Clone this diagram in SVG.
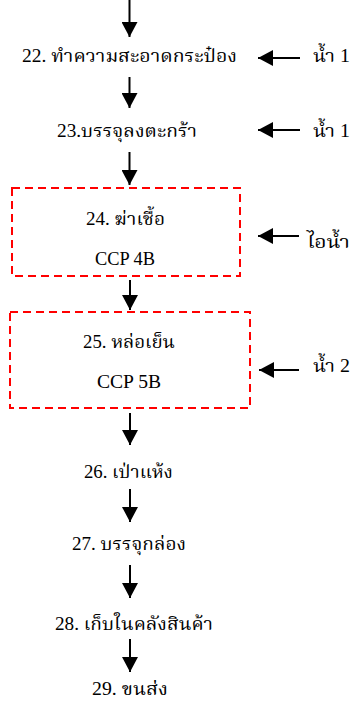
<svg xmlns="http://www.w3.org/2000/svg" width="353" height="706" viewBox="0 0 353 706">
<style>
text{font-family:"Liberation Serif","Noto Serif Thai","Noto Sans Thai","Tlwg Typo",serif;font-size:18px;fill:#000}
.ln{stroke:#000;stroke-width:2;fill:none}
.box{fill:none;stroke:#ff0000;stroke-width:2;stroke-dasharray:8 5}
</style>
<defs>
<marker id="ah" markerUnits="userSpaceOnUse" markerWidth="16" markerHeight="16" viewBox="0 0 16 16" refX="15" refY="8" orient="auto">
<path d="M0,0 L15,8 L0,16 Z" fill="#000"/>
</marker>
</defs>
<rect width="353" height="706" fill="#fff"/>
<g id="connectors">
<line class="ln" x1="129.5" y1="0" x2="129.5" y2="37" marker-end="url(#ah)"/>
<line class="ln" x1="129.5" y1="77" x2="129.5" y2="108" marker-end="url(#ah)"/>
<line class="ln" x1="129.5" y1="152" x2="129.5" y2="185" marker-end="url(#ah)"/>
<line class="ln" x1="130" y1="280" x2="130" y2="310" marker-end="url(#ah)"/>
<line class="ln" x1="130" y1="413" x2="130" y2="445" marker-end="url(#ah)"/>
<line class="ln" x1="130" y1="489" x2="130" y2="522" marker-end="url(#ah)"/>
<line class="ln" x1="130" y1="565" x2="130" y2="598" marker-end="url(#ah)"/>
<line class="ln" x1="130" y1="639" x2="130" y2="672" marker-end="url(#ah)"/>
<line class="ln" x1="300" y1="58" x2="258" y2="58" marker-end="url(#ah)"/>
<line class="ln" x1="300" y1="130" x2="258" y2="130" marker-end="url(#ah)"/>
<line class="ln" x1="299" y1="236" x2="258" y2="236" marker-end="url(#ah)"/>
<line class="ln" x1="299" y1="370" x2="259" y2="370" marker-end="url(#ah)"/>
</g>
<g id="n22"><text x="22" y="62" textLength="215" lengthAdjust="spacingAndGlyphs">22. ทำความสะอาดกระป๋อง</text></g>
<g id="in22"><text x="313" y="62" textLength="37" lengthAdjust="spacingAndGlyphs">น้ำ 1</text></g>
<g id="n23"><text x="57" y="137" textLength="140" lengthAdjust="spacingAndGlyphs">23.บรรจุลงตะกร้า</text></g>
<g id="in23"><text x="313" y="137" textLength="37" lengthAdjust="spacingAndGlyphs">น้ำ 1</text></g>
<g id="n24"><rect class="box" x="12" y="188" width="228" height="88"/><text x="86" y="225" textLength="79" lengthAdjust="spacingAndGlyphs">24. ฆ่าเชื้อ</text><text x="95" y="265" textLength="60" lengthAdjust="spacingAndGlyphs">CCP 4B</text></g>
<g id="in24"><text x="307" y="248" textLength="43" lengthAdjust="spacingAndGlyphs">ไอน้ำ</text></g>
<g id="n25"><rect class="box" x="10" y="312" width="240" height="96"/><text x="83" y="348" textLength="92" lengthAdjust="spacingAndGlyphs">25. หล่อเย็น</text><text x="97" y="388" textLength="64" lengthAdjust="spacingAndGlyphs">CCP 5B</text></g>
<g id="in25"><text x="313" y="372" textLength="37" lengthAdjust="spacingAndGlyphs">น้ำ 2</text></g>
<g id="n26"><text x="84" y="478" textLength="89" lengthAdjust="spacingAndGlyphs">26. เป่าแห้ง</text></g>
<g id="n27"><text x="72" y="550" textLength="114" lengthAdjust="spacingAndGlyphs">27. บรรจุกล่อง</text></g>
<g id="n28"><text x="55" y="630" textLength="158" lengthAdjust="spacingAndGlyphs">28. เก็บในคลังสินค้า</text></g>
<g id="n29"><text x="92" y="695" textLength="76" lengthAdjust="spacingAndGlyphs">29. ขนส่ง</text></g>
</svg>
